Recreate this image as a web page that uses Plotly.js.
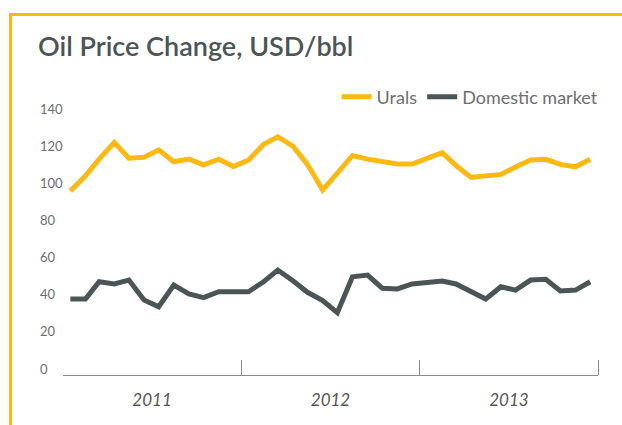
<!DOCTYPE html>
<html><head><meta charset="utf-8">
<script src="https://cdn.plot.ly/plotly-3.0.1.min.js"></script>
<style>
html,body{margin:0;padding:0;background:#fff;}
#wrap{position:relative;width:622px;height:425px;overflow:hidden;background:#fff;}
#frame{position:absolute;left:9px;top:13px;width:640px;height:440px;border-top:3px solid #FDB913;border-left:3px solid #FDB913;box-sizing:border-box;}
#chart{position:absolute;left:0;top:0;width:622px;height:425px;}
</style></head><body>
<div id="wrap"><div id="frame"></div><div id="chart"></div></div>
<script>
const years = [2011, 2012, 2013];
const monthNumbers = ['01','02','03','04','05','06','07','08','09','10','11','12'];
const urals = [95.9, 104, 113, 122, 113.5, 114, 118, 111.6, 113, 110, 113, 109,
               112.5, 121, 125, 120, 110, 96.4, 105.5, 115, 113, 111.7, 110.4, 110.4,
               113.6, 116.5, 109.6, 103.2, 104, 104.8, 108.8, 112.5, 112.9, 110.2, 108.9, 112.9];
const domestic = [37.7, 37.7, 47, 45.8, 47.9, 37.2, 33.5, 45.2, 40.4, 38.4, 41.6, 41.3,
                  41.6, 47, 53.3, 47.5, 41.3, 36.8, 30.3, 49.7, 50.6, 43.5, 43.1, 45.8,
                  46.7, 47.4, 45.8, 41.3, 37.7, 44.3, 42.5, 47.9, 48.3, 42, 42.5, 47];
const yTicks = [0, 20, 40, 60, 80, 100, 120, 140];
const seriesNames = ['Urals', 'Domestic market'];

const months = [];
years.forEach(y => monthNumbers.forEach(m => months.push(y + '-' + m + '-16')));

const traces = [
  {x: months, y: urals, name: seriesNames[0], type: 'scatter', mode: 'lines',
   line: {color: '#FDB913', width: 5}},
  {x: months, y: domestic, name: seriesNames[1], type: 'scatter', mode: 'lines',
   line: {color: '#4B5556', width: 5}}
];

const layout = {
  width: 622, height: 425,
  margin: {l: 36, r: 24, t: 100, b: 40},
  paper_bgcolor: 'rgba(0,0,0,0)', plot_bgcolor: 'rgba(0,0,0,0)',
  font: {family: 'Lato, "Open Sans", sans-serif', color: '#6D6E70'},
  title: {text: 'Oil Price Change, USD/bbl', x: 38/622, xanchor: 'left', xref: 'container',
          y: 1 - 47/425, yref: 'container', yanchor: 'middle',
          font: {size: 27, color: '#4B5556', weight: 600}},
  showlegend: true,
  legend: {orientation: 'h', x: 1.01, xanchor: 'right', y: 1.01, yanchor: 'middle',
           font: {size: 18, color: '#6D6E70'}, bgcolor: 'rgba(0,0,0,0)'},
  xaxis: {type: 'date', domain: [27/562, 1], range: ['2011-01-01', '2014-01-01'],
          anchor: 'free', position: 10/285,
          tick0: '2011-01-01', dtick: 'M12', ticklabelmode: 'period', tickformat: '%Y',
          ticks: 'inside', ticklen: 15, tickwidth: 1, tickcolor: '#8A8A8A',
          showline: true, linecolor: '#8A8A8A', linewidth: 1, showgrid: false, zeroline: false,
          ticklabelstandoff: 10,
          tickfont: {size: 17, style: 'italic', color: '#555555'}},
  yaxis: {anchor: 'free', position: 0, range: [-8.615, 144.86], tickvals: yTicks,
          ticklabelposition: 'inside', ticks: '', showgrid: false, zeroline: false, showline: false,
          tickfont: {size: 13, color: '#6D6E70'}}
};

Plotly.newPlot('chart', traces, layout, {displayModeBar: false, staticPlot: true});
</script>
</body></html>
